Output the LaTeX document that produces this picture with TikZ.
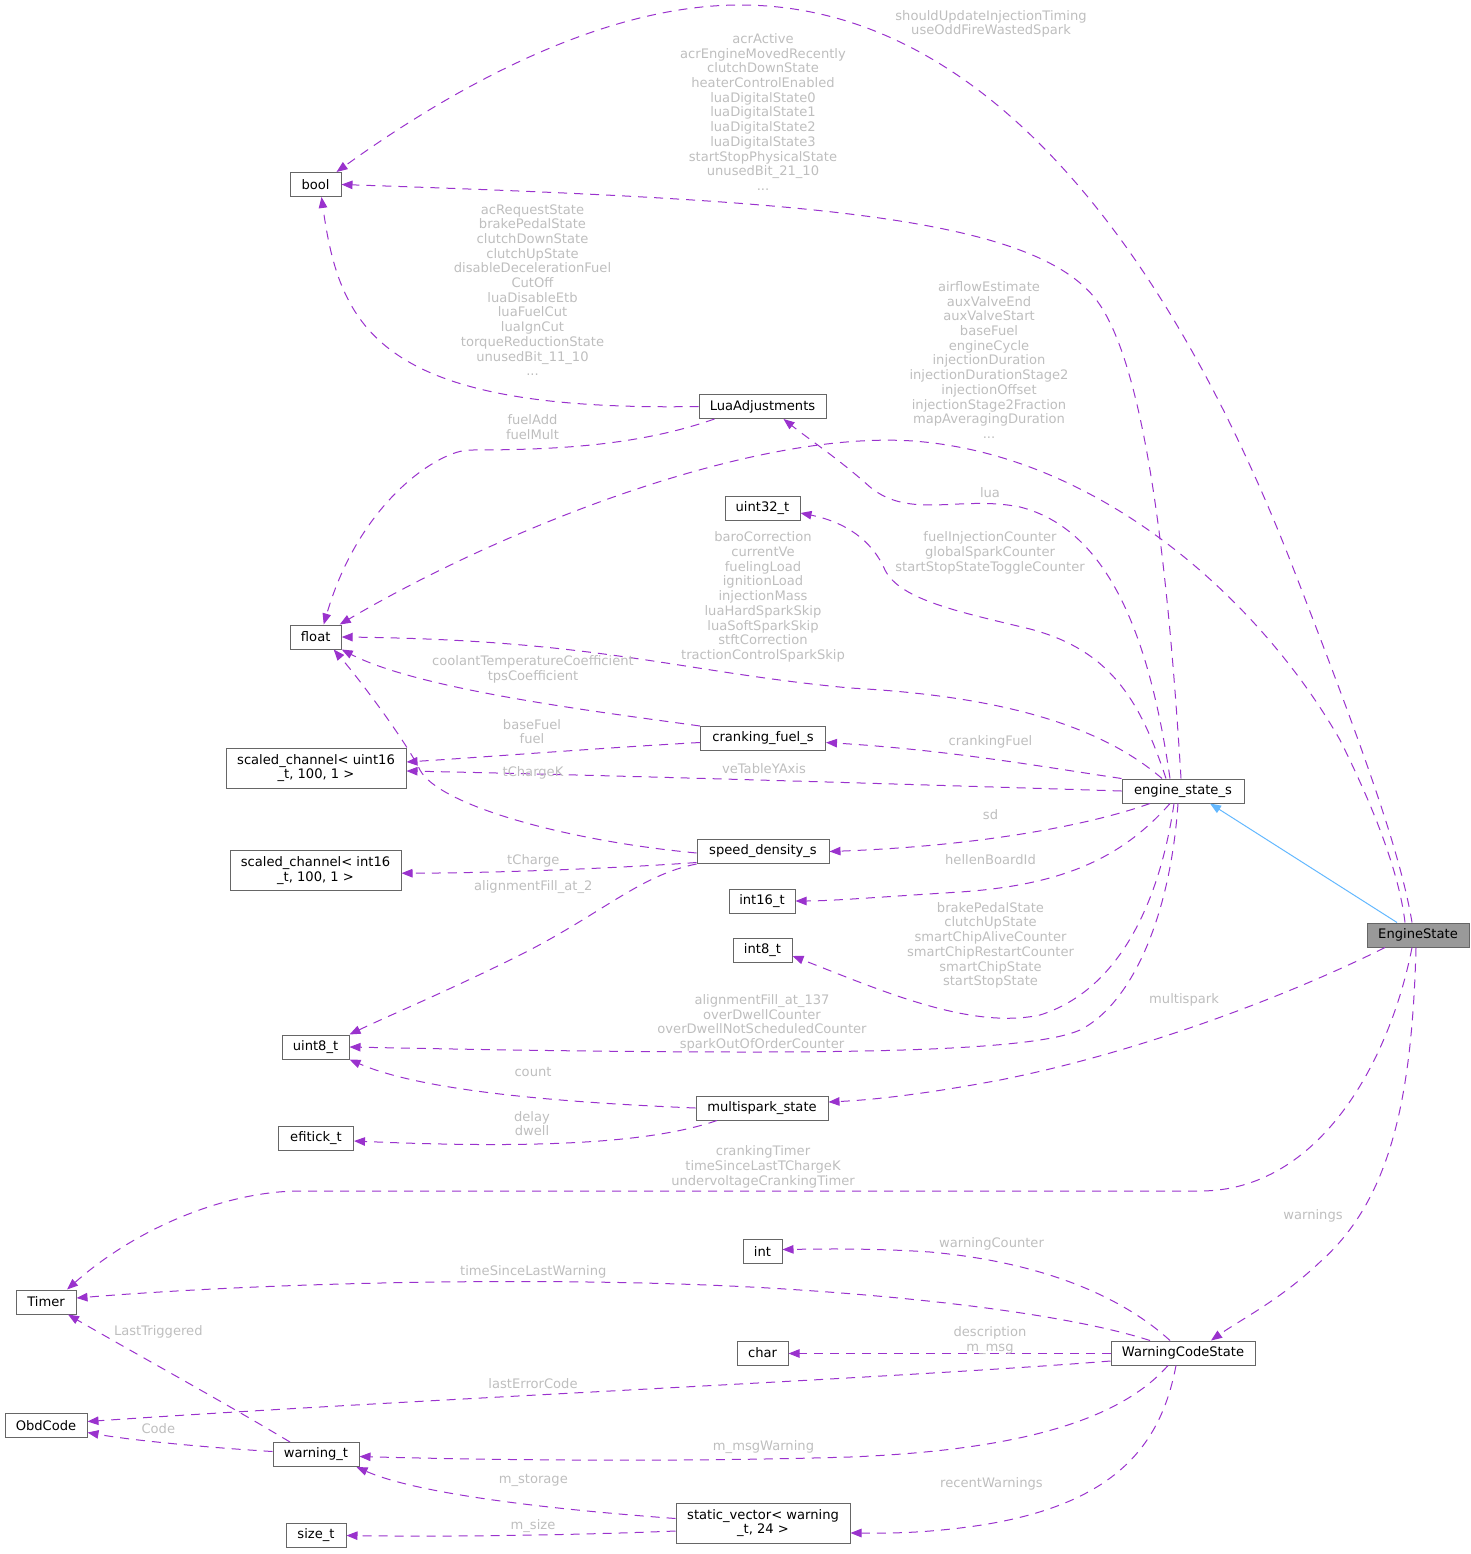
\documentclass[tikz,border=0pt]{standalone}
\usepackage{fontspec}
\setmainfont{DejaVu Sans}
\usetikzlibrary{arrows.meta}
\definecolor{edgec}{HTML}{9A32CD}
\definecolor{labc}{HTML}{BEBEBE}
\definecolor{boxc}{HTML}{666666}
\definecolor{inhc}{HTML}{63B8FF}
\definecolor{esfill}{HTML}{999999}
\newcommand\dgfont{\fontsize{13.1}{14.7}\selectfont}
\begin{document}
\begin{tikzpicture}[x=1pt,y=-1pt,
  box/.style={draw=boxc, line width=1pt, fill=white, font=\dgfont, inner sep=0pt, minimum height=24pt, align=center},
  box2/.style={box, minimum height=40pt},
  dep/.style={draw=edgec, line width=1pt, dash pattern=on 9pt off 7pt, -{Triangle[length=11pt,width=8.5pt]}},
  inh/.style={draw=inhc, line width=1pt, -{Triangle[length=11pt,width=8.5pt]}},
  lab/.style={text=labc, font=\dgfont, align=center, inner sep=0pt}]
\useasboundingbox (0,0) rectangle (1471,1554);
% nodes
\node[box, minimum width=51pt] (nbool) at (315.5,184.5) {bool};
\node[box, minimum width=127pt] (nlua) at (762.5,406.5) {LuaAdjustments};
\node[box, minimum width=75pt] (nu32) at (762.5,508.5) {uint32\_t};
\node[box, minimum width=51pt] (nfloat) at (315.7,637) {float};
\node[box, minimum width=125pt] (ncfs) at (763,738.5) {cranking\_fuel\_s};
\node[box2, minimum width=180pt] (nsc16u) at (316,768) {scaled\_channel< uint16\\\_t, 100, 1 >};
\node[box, minimum width=122pt] (nes) at (1183,791) {engine\_state\_s};
\node[box, minimum width=132pt] (nsds) at (763,851.5) {speed\_density\_s};
\node[box2, minimum width=171pt] (nsc16) at (315.5,870.7) {scaled\_channel< int16\\\_t, 100, 1 >};
\node[box, minimum width=66pt] (ni16) at (762,901) {int16\_t};
\node[box, minimum width=59pt] (ni8) at (762.5,950) {int8\_t};
\node[box, minimum width=102pt, fill=esfill] (nES) at (1418,935) {EngineState};
\node[box, minimum width=67pt] (nu8) at (315.5,1047) {uint8\_t};
\node[box, minimum width=132pt] (nms) at (762,1108) {multispark\_state};
\node[box, minimum width=75pt] (neft) at (316,1138) {efitick\_t};
\node[box, minimum width=39pt] (nint) at (762.5,1251.5) {int};
\node[box, minimum width=51pt] (nchar) at (762.5,1353) {char};
\node[box, minimum width=144pt] (nwcs) at (1183,1353) {WarningCodeState};
\node[box2, minimum width=174pt] (nsv) at (763,1523) {static\_vector< warning\\\_t, 24 >};
\node[box, minimum width=82pt] (nobd) at (46,1425.5) {ObdCode};
\node[box, minimum width=60pt] (ntimer) at (46,1302) {Timer};
\node[box, minimum width=86pt] (nwt) at (316,1454.5) {warning\_t};
\node[box, minimum width=60pt] (nst) at (316,1535.5) {size\_t};
% edges
\draw[dep] ([xshift=-6pt]nES.north) .. controls (1400,850) and (1360,740) .. (1290,560) .. controls (1180,280) and (1000,5) .. (740,5) .. controls (600,5) and (450,90) .. ([xshift=21pt]nbool.north);
\draw[dep] ([xshift=-2pt]nes.north) .. controls (1170,600) and (1150,380) .. (1100,305) .. controls (1040,215) and (800,200) .. (nbool.east);
\draw[dep] (nlua.west) .. controls (380,412) and (340,330) .. ([xshift=6pt]nbool.south);
\draw[dep] ([xshift=-48pt]nlua.south) .. controls (640,445) and (560,450) .. (470,450) .. controls (440,450) and (360,500) .. ([xshift=8pt]nfloat.north);
\draw[dep] ([xshift=-13pt]nes.north) .. controls (1150,640) and (1110,530) .. (1020,507) .. controls (960,495) and (910,520) .. (870,487) .. controls (840,460) and (810,440) .. ([xshift=21pt]nlua.south);
\draw[dep] ([xshift=-13pt]nES.north) .. controls (1400,880) and (1380,820) .. (1340,740) .. controls (1260,600) and (1100,455) .. (913,441) .. controls (750,430) and (500,530) .. ([xshift=24pt]nfloat.north);
\draw[dep] ([xshift=-17pt]nes.north) .. controls (1140,700) and (1110,650) .. (1030,629) .. controls (960,612) and (900,600) .. (885,570) .. controls (872,540) and (845,522) .. ([yshift=-4.5pt]nu32.east);
\draw[dep] ([xshift=-21pt]nes.north) .. controls (1100,725) and (1000,696) .. (850,688) .. controls (680,672) and (600,640) .. (nfloat.east);
\draw[dep] (ncfs.north west) .. controls (600,712) and (420,690) .. (nfloat.south east);
\draw[dep] ([yshift=-4pt]ncfs.west) .. controls (600,748) and (500,756) .. ([yshift=6pt]nsc16u.east);
\draw[dep] (nes.west) .. controls (900,784) and (600,775) .. ([yshift=-3pt]nsc16u.east);
\draw[dep] ([yshift=-1.5pt]nsds.west) .. controls (560,840) and (438,804) .. (420,770) .. controls (405,740) and (360,680) .. ([xshift=18pt]nfloat.south);
\draw[dep] (nes.north west) .. controls (1050,768) and (950,750) .. ([yshift=-4pt]ncfs.east);
\draw[dep] ([xshift=-33pt]nes.south) .. controls (1090,825) and (980,846) .. (nsds.east);
\draw[dep] ([xshift=-13pt]nes.south) .. controls (1120,860) and (1060,885) .. (960,892) .. controls (880,897) and (830,901) .. (ni16.east);
\draw[dep] ([xshift=-9pt]nes.south) .. controls (1160,900) and (1120,990) .. (1040,1015) .. controls (970,1030) and (880,990) .. ([yshift=-6pt]ni8.east);
\draw[dep] ([xshift=-5pt]nes.south) .. controls (1170,920) and (1130,1005) .. (1080,1030) .. controls (1040,1048) and (900,1052) .. (750,1052) .. controls (600,1052) and (450,1049) .. (nu8.east);
\draw[dep] ([yshift=-11pt]nsds.west) .. controls (620,868) and (500,873) .. ([yshift=-2.5pt]nsc16.east);
\draw[dep] (nsds.south west) .. controls (640,875) and (600,915) .. (520,955) .. controls (450,990) and (390,1015) .. (nu8.north east);
\draw[dep] ([xshift=-33pt]nES.south) .. controls (1300,990) and (1150,1050) .. (1000,1080) .. controls (920,1095) and (870,1100) .. ([yshift=6pt]nms.east);
\draw[dep] (nms.west) .. controls (550,1102) and (420,1090) .. (nu8.south east);
\draw[dep] ([xshift=-45pt]nms.south) .. controls (660,1140) and (560,1150) .. ([yshift=-3pt]neft.east);
\draw[dep] ([xshift=-6pt]nES.south) .. controls (1390,1060) and (1320,1191) .. (1200,1191) -- (300,1191) .. controls (230,1191) and (140,1225) .. ([xshift=21pt]ntimer.north);
\draw[dep] ([xshift=-2pt]nES.south) .. controls (1412,1100) and (1390,1200) .. (1320,1262) .. controls (1280,1300) and (1240,1320) .. ([xshift=28pt]nwcs.north);
\draw[dep] ([xshift=-13pt]nwcs.north) .. controls (1120,1295) and (1040,1262) .. (930,1252) .. controls (870,1248) and (820,1249) .. ([yshift=2pt]nint.east);
\draw[dep] ([xshift=-33pt]nwcs.north) .. controls (1080,1318) and (950,1300) .. (800,1290) .. controls (600,1276) and (300,1280) .. ([yshift=4pt]ntimer.east);
\draw[dep] ([yshift=-0.5pt]nwcs.west) -- ([yshift=-0.5pt]nchar.east);
\draw[dep] ([yshift=-8pt]nwcs.west) .. controls (900,1378) and (400,1400) .. ([yshift=4pt]nobd.east);
\draw[dep] ([xshift=-15pt]nwcs.south) .. controls (1120,1420) and (1020,1450) .. (850,1457) .. controls (650,1463) and (450,1459) .. ([yshift=-2pt]nwt.east);
\draw[dep] ([xshift=-7pt]nwcs.south) .. controls (1160,1450) and (1110,1510) .. (960,1528) .. controls (910,1534) and (880,1533) .. ([yshift=-10pt]nsv.east);
\draw[dep] ([xshift=-26pt]nwt.north) .. controls (220,1400) and (120,1345) .. ([xshift=22pt]ntimer.south);
\draw[dep] ([yshift=3pt]nwt.west) .. controls (200,1447) and (130,1440) .. ([yshift=-7pt]nobd.east);
\draw[dep] ([yshift=4.5pt]nsv.west) .. controls (560,1510) and (420,1495) .. ([xshift=-3pt]nwt.south east);
\draw[dep] ([yshift=-8pt]nsv.west) .. controls (580,1535) and (450,1537) .. (nst.east);
\draw[inh] ([xshift=-21pt]nES.north) -- ([xshift=27pt]nes.south);
% labels
\node[lab] (l1) at (991,24) {shouldUpdateInjectionTiming\\useOddFireWastedSpark};
\node[lab] (l2) at (763,112) {acrActive\\acrEngineMovedRecently\\clutchDownState\\heaterControlEnabled\\luaDigitalState0\\luaDigitalState1\\luaDigitalState2\\luaDigitalState3\\startStopPhysicalState\\unusedBit\_21\_10\\...};
\node[lab] (l3) at (532.5,290) {acRequestState\\brakePedalState\\clutchDownState\\clutchUpState\\disableDecelerationFuel\\CutOff\\luaDisableEtb\\luaFuelCut\\luaIgnCut\\torqueReductionState\\unusedBit\_11\_10\\...};
\node[lab] (l4) at (532.5,427) {fuelAdd\\fuelMult};
\node[lab] (l5) at (990,493) {lua};
\node[lab] (l6) at (989,360) {airflowEstimate\\auxValveEnd\\auxValveStart\\baseFuel\\engineCycle\\injectionDuration\\injectionDurationStage2\\injectionOffset\\injectionStage2Fraction\\mapAveragingDuration\\...};
\node[lab] (l7) at (990,553) {fuelInjectionCounter\\globalSparkCounter\\startStopStateToggleCounter};
\node[lab] (l8) at (763,597) {baroCorrection\\currentVe\\fuelingLoad\\ignitionLoad\\injectionMass\\luaHardSparkSkip\\luaSoftSparkSkip\\stftCorrection\\tractionControlSparkSkip};
\node[lab] (l9) at (533,669.5) {coolantTemperatureCoefficient\\tpsCoefficient};
\node[lab] (l10) at (532,731.5) {baseFuel\\fuel};
\node[lab] (l11) at (764,768.5) {veTableYAxis};
\node[lab] (l12) at (533,773) {tChargeK};
\node[lab] (l13) at (990.5,742) {crankingFuel};
\node[lab] (l14) at (990.5,815) {sd};
\node[lab] (l15) at (990.5,860) {hellenBoardId};
\node[lab] (l16) at (990.5,945.4) {brakePedalState\\clutchUpState\\smartChipAliveCounter\\smartChipRestartCounter\\smartChipState\\startStopState};
\node[lab] (l17) at (762,1022.8) {alignmentFill\_at\_137\\overDwellCounter\\overDwellNotScheduledCounter\\sparkOutOfOrderCounter};
\node[lab] (l18) at (533.3,860.7) {tCharge};
\node[lab] (l19) at (533.3,886.7) {alignmentFill\_at\_2};
\node[lab] (l20) at (1184,1000) {multispark};
\node[lab] (l21) at (533,1071.6) {count};
\node[lab] (l22) at (532,1123.5) {delay\\dwell};
\node[lab] (l23) at (763,1167) {crankingTimer\\timeSinceLastTChargeK\\undervoltageCrankingTimer};
\node[lab] (l24) at (1313,1216) {warnings};
\node[lab] (l25) at (991.5,1243.5) {warningCounter};
\node[lab] (l26) at (533.3,1272.3) {timeSinceLastWarning};
\node[lab] (l27) at (990,1340.5) {description\\m\_msg};
\node[lab] (l28) at (533,1384) {lastErrorCode};
\node[lab] (l29) at (763.5,1447) {m\_msgWarning};
\node[lab] (l30) at (991.5,1484) {recentWarnings};
\node[lab] (l31) at (158.3,1331.7) {LastTriggered};
\node[lab] (l32) at (158.3,1429) {Code};
\node[lab] (l33) at (533.3,1480.4) {m\_storage};
\node[lab] (l34) at (533,1525.6) {m\_size};
\end{tikzpicture}
\end{document}
